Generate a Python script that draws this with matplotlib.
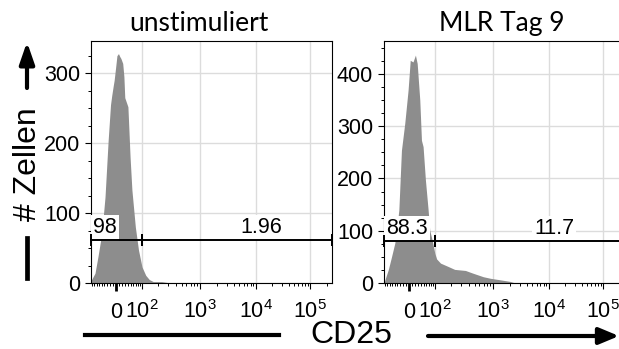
import numpy as np
import matplotlib
matplotlib.use('Agg')
import matplotlib.pyplot as plt
from matplotlib.ticker import MultipleLocator, FixedLocator
from matplotlib.lines import Line2D

plt.rcParams['font.family'] = ['Liberation Sans', 'DejaVu Sans']

# CD25 histograms (fluorescence value, number of cells)
unstim_x = [-96, -93, -77, -64, -49, -37, -26, -18, -14, -9, -6, -1, 3, 8, 12,
            16, 22, 26, 29, 40, 48, 55, 69, 83, 100, 119, 139, 165, 232, 325]
unstim_n = [0, 5, 14, 38, 71, 123, 204, 255, 268, 282, 290, 309, 325, 328, 324,
            321, 314, 295, 265, 252, 180, 133, 80, 47, 23, 11, 5, 2, 2, 0]

mlr_x = [-96, -89, -76, -63, -49, -44, -34, -25, -14, -3, 4, 13, 21, 27, 36, 42,
         48, 57, 68, 75, 86, 99, 108, 129, 175, 232, 352, 463, 694, 909, 1359,
         2030, 2481]
mlr_n = [0, 9, 25, 48, 76, 92, 140, 254, 305, 369, 426, 423, 436, 420, 350, 273,
         261, 197, 140, 101, 82, 57, 46, 38, 32, 26, 24, 19, 12, 9, 6, 3, 0]

titles = ['unstimuliert', 'MLR Tag 9']
neg_pct = ['98', '88.3']
pos_pct = ['1.96', '11.7']
gate_y = [61, 81]
y_top = [346, 463]

x_major = [0, 1e2, 1e3, 1e4, 1e5]
x_major_labels = ['0', r'$\mathregular{10^2}$', r'$\mathregular{10^3}$',
                  r'$\mathregular{10^4}$', r'$\mathregular{10^5}$']
x_minor = (list(range(-90, 0, 10)) + list(range(10, 100, 10))
           + [k * 10 ** e for e in (2, 3, 4) for k in range(2, 10)] + [2e5])

# biexponential display axis (asinh, calibrated to the cytometer plot)
W = 81.2
XMIN, XMAX = -96, 2.46e5
anchor_u = np.arcsinh(np.array([XMIN, 0, 1e2, 1e3, 1e4, 1e5, XMAX]) / W)
anchor_p = np.array([0, 25, 51, 109, 165, 219, 241.0])


def fwd(x):
    return np.interp(np.arcsinh(np.asarray(x, dtype=float) / W), anchor_u, anchor_p)


def inv(p):
    return W * np.sinh(np.interp(np.asarray(p, dtype=float), anchor_p, anchor_u))


fig = plt.figure(figsize=(6.19, 3.49), dpi=100)
ax1 = fig.add_axes([91 / 619, 66 / 349, 241 / 619, 242 / 349])
ax2 = fig.add_axes([384 / 619, 66 / 349, 241 / 619, 242 / 349])

hists = [(unstim_x, unstim_n), (mlr_x, mlr_n)]
title_x = [199, 502]

for i, ax in enumerate([ax1, ax2]):
    hx, hn = hists[i]
    ax.set_xscale('function', functions=(fwd, inv))
    ax.fill_between(hx, hn, color='#8d8d8d', lw=0, zorder=1)
    ax.set_xlim(XMIN, XMAX)
    ax.set_ylim(0, y_top[i])

    ax.xaxis.set_major_locator(FixedLocator(x_major))
    ax.xaxis.set_minor_locator(FixedLocator(x_minor))
    ax.set_xticklabels(x_major_labels)
    ax.yaxis.set_major_locator(MultipleLocator(100))
    ax.yaxis.set_minor_locator(MultipleLocator(25))

    ax.tick_params(which='major', length=4.3, width=0.8, labelsize=15.5)
    ax.tick_params(axis='y', which='major', pad=3.5)
    ax.tick_params(axis='x', which='major', pad=21)
    ax.tick_params(which='minor', length=2.5, width=0.7)
    for lab in ax.get_xticklabels():
        lab.set_va('baseline')
    t0 = ax.xaxis.get_major_ticks()[0]
    t0.tick1line.set_markeredgewidth(2)
    t0.tick1line.set_markersize(6)

    ax.yaxis.grid(True, color='#dcdcdc', lw=1)
    for v in x_major[1:]:
        ax.axvline(v, color='#dcdcdc', lw=1, zorder=0)
    ax.set_axisbelow(True)
    for s in ax.spines.values():
        s.set_linewidth(0.8)

    # gates
    gy = gate_y[i]
    for a, b in [(XMIN, 1e2), (1e2, XMAX)]:
        ax.plot([a, b], [gy, gy], color='k', lw=1.4, marker='|', ms=8, mew=1.4,
                clip_on=False, zorder=4)
    box = dict(boxstyle='square,pad=0.1', fc='white', ec='none')
    ax.annotate(neg_pct[i], (XMIN, gy), xytext=(1.5, 5), textcoords='offset points',
                ha='left', va='baseline', fontsize=15.5, bbox=box, zorder=3)
    ax.annotate(pos_pct[i], (1.25e4, gy), xytext=(0, 5), textcoords='offset points',
                ha='center', va='baseline', fontsize=15.5, bbox=box, zorder=3)

    fig.text(title_x[i] / 619, 318 / 349, titles[i], family=['Lato', 'DejaVu Sans'],
             fontsize=19, ha='center', va='baseline')

# axis labels with arrows
fig.text(28 / 619, 184.5 / 349, '# Zellen', rotation=90, fontsize=23,
         ha='center', va='center')
fig.add_artist(Line2D([27 / 619, 27 / 619], [71 / 349, 111 / 349], lw=3.4, color='k'))
ax1.annotate('', xy=(27 / 619, 307 / 349), xytext=(27 / 619, 261 / 349),
             xycoords='figure fraction', textcoords='figure fraction',
             arrowprops=dict(arrowstyle='-|>,head_length=1.3,head_width=0.45',
                             mutation_scale=10, lw=3, color='k',
                             shrinkA=0, shrinkB=0))

fig.text(351 / 619, 6 / 349, 'CD25', fontsize=23, ha='center', va='baseline')
fig.add_artist(Line2D([85 / 619, 279 / 619], [14 / 349, 14 / 349], lw=3, color='k'))
ax1.annotate('', xy=(619 / 619, 13 / 349), xytext=(428 / 619, 13 / 349),
             xycoords='figure fraction', textcoords='figure fraction',
             arrowprops=dict(arrowstyle='-|>,head_length=1.2,head_width=0.5',
                             mutation_scale=10, lw=3, color='k',
                             shrinkA=0, shrinkB=0))

plt.savefig('out.png', dpi=100)
